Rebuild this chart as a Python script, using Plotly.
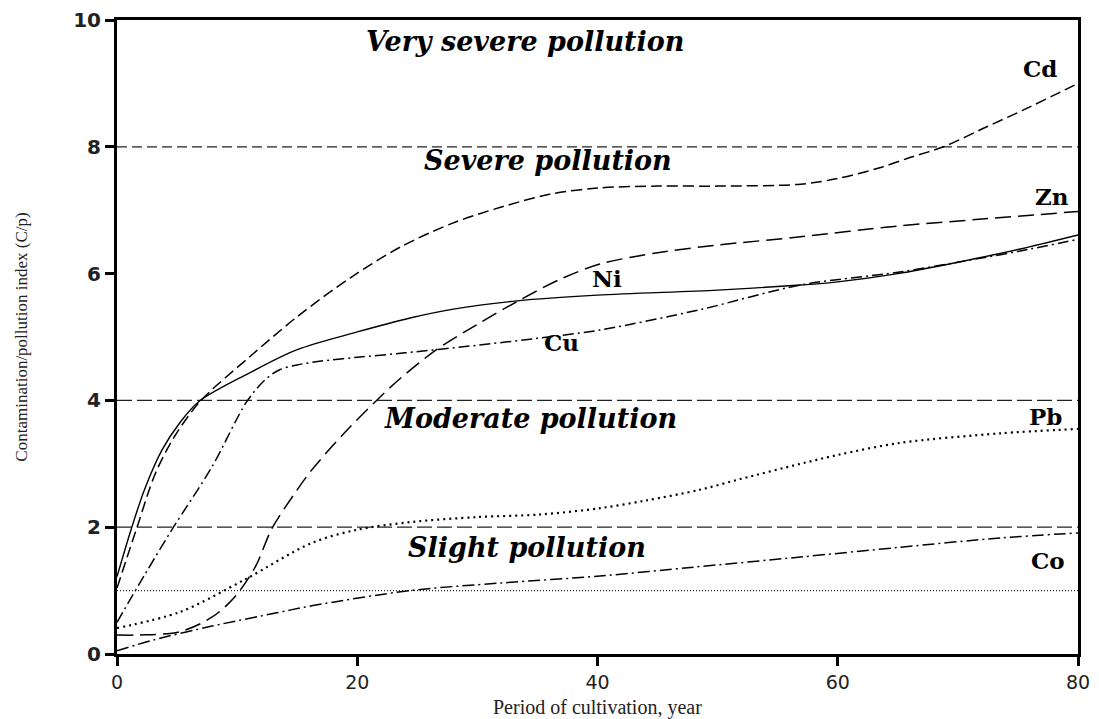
import plotly.graph_objects as go

# ---- data ----
years_cd = [0, 1.67, 3.2, 4.85, 7, 11, 15, 19.4, 23.6, 28, 32, 36, 40, 45, 50, 56.9, 60, 63.5, 66, 68.8, 72, 76, 80]
cd = [1.04, 2.0, 2.85, 3.45, 4.0, 4.68, 5.32, 5.93, 6.42, 6.8, 7.05, 7.25, 7.35, 7.38, 7.38, 7.41, 7.5, 7.67, 7.83, 8.0, 8.28, 8.63, 9.0]

years_ni = [0, 1.2, 2.3, 3.75, 5.2, 6.8, 11, 15, 20, 24.4, 28, 33.3, 40, 50, 56.9, 60, 65, 70, 75, 80]
ni = [1.22, 1.98, 2.6, 3.22, 3.64, 3.98, 4.43, 4.8, 5.08, 5.3, 5.44, 5.57, 5.66, 5.74, 5.82, 5.87, 6.0, 6.18, 6.38, 6.61]

years_cu = [0, 2.4, 4.7, 7.9, 10.8, 12.3, 13.5, 15, 17, 20, 24, 30, 35, 40.2, 48.5, 56.9, 65, 70, 75, 80]
cu = [0.5, 1.28, 2.0, 2.95, 3.98, 4.32, 4.48, 4.56, 4.62, 4.68, 4.75, 4.87, 4.98, 5.11, 5.43, 5.82, 6.02, 6.18, 6.35, 6.54]

years_zn = [0, 1.9, 5.2, 7.9, 9.8, 11.5, 12.9, 14.6, 16.2, 19, 21.5, 23.6, 26.6, 30, 33.5, 37, 40.2, 45, 50, 56.9, 65, 72, 80]
zn = [0.3, 0.3, 0.35, 0.58, 0.9, 1.37, 1.98, 2.48, 2.9, 3.5, 3.98, 4.35, 4.8, 5.2, 5.58, 5.92, 6.15, 6.33, 6.45, 6.58, 6.75, 6.86, 6.98]

years_pb = [0, 5.2, 10.6, 16.2, 20, 24.4, 30, 35.2, 40.2, 44, 48.5, 51.9, 56.9, 60, 65.2, 73.5, 80]
pb = [0.41, 0.66, 1.17, 1.75, 1.96, 2.08, 2.16, 2.2, 2.3, 2.42, 2.59, 2.76, 3.0, 3.14, 3.33, 3.48, 3.55]

years_co = [0, 3, 7.9, 13.3, 16.2, 24.4, 32, 40.2, 48, 56.9, 65, 73.5, 80]
co = [0.05, 0.22, 0.44, 0.65, 0.76, 1.0, 1.12, 1.23, 1.37, 1.53, 1.68, 1.83, 1.91]

class_levels = [8, 4, 2, 1]
class_dashes = ["10px,5px", "15px,5px", "15px,5px", "1px,2px"]

zone_labels = ["Very severe pollution", "Severe pollution", "Moderate pollution", "Slight pollution"]
zone_x = [34.0, 35.9, 34.4, 34.1]
zone_y = [9.66, 7.78, 3.72, 1.68]

metal_labels = ["Cd", "Zn", "Ni", "Cu", "Pb", "Co"]
metal_x = [76.8, 77.8, 40.8, 37.0, 77.3, 77.5]
metal_y = [9.24, 7.21, 5.93, 4.92, 3.74, 1.47]

x_ticks = [0, 20, 40, 60, 80]
y_ticks = [0, 2, 4, 6, 8, 10]

x_title = "Period of cultivation, year"
y_title = "Contamination/pollution index (C/p)"

fig = go.Figure()

for lvl, dsh in zip(class_levels, class_dashes):
    fig.add_trace(go.Scatter(x=[0, 80], y=[lvl, lvl], mode="lines",
                             line=dict(color="#222", width=1.2, dash=dsh),
                             hoverinfo="skip", showlegend=False))

series = [
    (years_cd, cd, "11px,5px", 1.5),
    (years_zn, zn, "16px,7px", 1.5),
    (years_ni, ni, "solid", 1.4),
    (years_cu, cu, "11px,4px,2px,4px", 1.5),
    (years_pb, pb, "2px,4px", 2.2),
    (years_co, co, "12px,4px,2px,4px", 1.5),
]
for xs, ys, dsh, w in series:
    fig.add_trace(go.Scatter(x=xs, y=ys, mode="lines",
                             line=dict(color="black", width=w, dash=dsh, shape="spline", smoothing=0.9),
                             showlegend=False))

for t, xx, yy in zip(zone_labels, zone_x, zone_y):
    fig.add_annotation(x=xx, y=yy, text=t, showarrow=False, xanchor="center", yanchor="middle",
                       font=dict(family="DejaVu Serif", size=27, color="black", style="italic", weight="bold"))

for t, xx, yy in zip(metal_labels, metal_x, metal_y):
    fig.add_annotation(x=xx, y=yy, text=t, showarrow=False, xanchor="center", yanchor="middle",
                       font=dict(family="DejaVu Serif", size=23, color="black", weight="bold"))

# x-axis title placed below the tick labels
fig.add_annotation(xref="paper", yref="paper", x=0.5, y=0, xanchor="center", yanchor="top",
                   yshift=-40, text=x_title, showarrow=False,
                   font=dict(family="Liberation Serif", size=20, color="#222"))

fig.update_xaxes(range=[0, 80], tickvals=x_ticks, ticktext=[str(v) for v in x_ticks],
                 showgrid=False, zeroline=False, showline=True, linecolor="black", linewidth=3,
                 mirror=True, ticks="outside", ticklen=9, tickwidth=2.5, tickcolor="black",
                 ticklabelstandoff=0, automargin=False,
                 tickfont=dict(family="DejaVu Sans", size=19, color="#222"))
fig.update_yaxes(range=[0, 10], tickvals=y_ticks, ticktext=[str(v) for v in y_ticks],
                 showgrid=False, zeroline=False, showline=True, linecolor="black", linewidth=3,
                 mirror=True, ticks="outside", ticklen=9, tickwidth=2.5, tickcolor="black",
                 automargin=False,
                 tickfont=dict(family="DejaVu Sans", size=20, color="#222", weight="bold"),
                 title=dict(text=y_title, standoff=42,
                            font=dict(family="Liberation Serif", size=17, color="#222")))

fig.update_layout(width=1099, height=719, margin=dict(l=117, r=21, t=20, b=65, autoexpand=False),
                  plot_bgcolor="white", paper_bgcolor="white")

fig.write_html("out.html")
